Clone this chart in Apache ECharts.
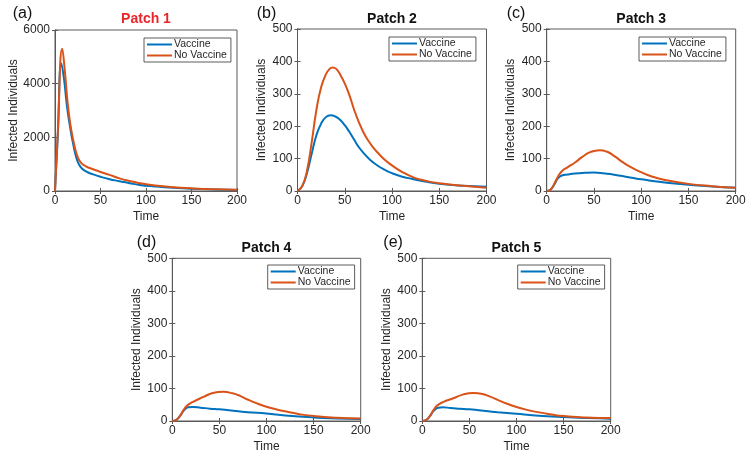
<!DOCTYPE html>
<html>
<head>
<meta charset="utf-8">
<script src="https://cdn.jsdelivr.net/npm/echarts@6/dist/echarts.min.js"></script>
<style>html,body{margin:0;padding:0;background:#fff}#c{width:751px;height:458px}</style>
</head>
<body>
<div id="c"></div>
<script>
// ---------- data ----------
const xTicks = [0, 50, 100, 150, 200];
const yTicksA = [0, 2000, 4000, 6000];
const yTicksOther = [0, 100, 200, 300, 400, 500];
const seriesNames = ['Vaccine', 'No Vaccine'];
const panelTitles = ['Patch 1', 'Patch 2', 'Patch 3', 'Patch 4', 'Patch 5'];
const panelLabels = ['(a)', '(b)', '(c)', '(d)', '(e)'];

// Patch 1
const tVacA   = [0, 3, 7, 10, 13, 16, 20, 24, 28, 34, 42, 50, 60, 71, 82, 93, 110, 130, 150, 175, 200];
const vacA    = [0, 2000, 4750, 4150, 3200, 2500, 1750, 1180, 900, 730, 620, 530, 440, 366, 290, 225, 170, 120, 85, 58, 40];
const tNoVacA = [0, 3, 8, 11, 14, 17, 20, 24, 28, 34, 42, 50, 60, 71, 82, 93, 110, 130, 150, 175, 200];
const noVacA  = [0, 2150, 5300, 4400, 3250, 2450, 1900, 1350, 1080, 920, 810, 710, 600, 470, 370, 290, 205, 140, 100, 65, 45];

// Patch 2
const tVacB   = [0, 5, 10, 15, 20, 25, 30, 35, 40, 45, 50, 55, 60, 65, 70, 77, 85, 92, 100, 110, 122, 135, 150, 175, 200];
const vacB    = [0, 15, 55, 115, 172, 208, 228, 234, 230, 220, 203, 182, 158, 135, 117, 96, 78, 66, 55, 45, 37, 29, 22, 16, 13];
const tNoVacB = [0, 5, 10, 15, 20, 25, 30, 34, 37, 41, 46, 50, 55, 60, 65, 70, 75, 80, 85, 92, 100, 110, 122, 135, 150, 175, 200];
const noVacB  = [0, 15, 62, 150, 250, 320, 360, 377, 381, 377, 355, 332, 295, 250, 212, 180, 155, 135, 118, 97, 79, 60, 43, 32, 24, 16, 10];

// Patch 3
const tVacC   = [0, 4, 8, 12, 16, 22, 30, 40, 50, 60, 70, 80, 90, 100, 112, 125, 150, 175, 200];
const vacC    = [0, 4, 20, 40, 48, 51, 54, 56, 57, 55, 51, 46, 41, 36, 31, 26, 19, 14, 10];
const tNoVacC = [0, 4, 8, 12, 16, 22, 30, 38, 46, 56, 64, 72, 80, 90, 100, 112, 125, 150, 175, 200];
const noVacC  = [0, 4, 22, 45, 61, 73, 88, 106, 120, 126, 121, 107, 90, 72, 58, 44, 34, 22, 15, 10];

// Patch 4
const tVacD   = [0, 4, 8, 12, 17, 22, 30, 40, 50, 60, 70, 80, 100, 120, 150, 175, 200];
const vacD    = [0, 3, 15, 31, 42, 43, 41, 38, 36, 33, 30, 27, 23, 17, 11, 8, 6];
const tNoVacD = [0, 4, 8, 12, 16, 22, 33, 43, 54, 64, 72, 80, 90, 100, 110, 121, 135, 150, 174, 200];
const noVacD  = [0, 3, 15, 34, 48, 59, 74, 86, 90, 85, 77, 66, 54, 44, 36, 29, 21, 15, 10, 8];

// Patch 5
const tVacE   = [0, 4, 8, 12, 17, 22, 30, 40, 50, 60, 70, 80, 100, 120, 150, 175, 200];
const vacE    = [0, 3, 15, 31, 41, 42, 40, 38, 36, 33, 30, 27, 22, 17, 12, 9, 7];
const tNoVacE = [0, 4, 8, 12, 16, 22, 33, 43, 54, 64, 72, 80, 90, 100, 110, 121, 135, 150, 174, 200];
const noVacE  = [0, 3, 15, 34, 48, 58, 70, 81, 86, 83, 75, 65, 53, 43, 35, 28, 21, 15, 11, 9];

// ---------- layout ----------
const FONT = '"Liberation Sans", Arial, Helvetica, sans-serif';
const AX = '#5a5a5a';
const TXT = '#262626';
const BLUE = '#0072BD';
const RED = '#D95319';

const panelData = [
  {vac: [tVacA, vacA], nov: [tNoVacA, noVacA], yTicks: yTicksA},
  {vac: [tVacB, vacB], nov: [tNoVacB, noVacB], yTicks: yTicksOther},
  {vac: [tVacC, vacC], nov: [tNoVacC, noVacC], yTicks: yTicksOther},
  {vac: [tVacD, vacD], nov: [tNoVacD, noVacD], yTicks: yTicksOther},
  {vac: [tVacE, vacE], nov: [tNoVacE, noVacE], yTicks: yTicksOther}
];
const layout = [
  {grid: {left: 55, top: 30, width: 182, height: 161}, nameGap: 34, legend: {left: 144, top: 38}, titleX: 146, titleY: 19.5, labX: 12.7, labY: 14, titleColor: '#E8262B'},
  {grid: {left: 297.5, top: 29, width: 189, height: 162}, nameGap: 30, legend: {left: 389, top: 37}, titleX: 392, titleY: 18.7, labX: 256.7, labY: 14, titleColor: '#111'},
  {grid: {left: 546.7, top: 29, width: 189, height: 162}, nameGap: 30, legend: {left: 639, top: 37}, titleX: 641.2, titleY: 18.7, labX: 506.7, labY: 14, titleColor: '#111'},
  {grid: {left: 172.3, top: 258.3, width: 188.4, height: 162.7}, nameGap: 30, legend: {left: 267.7, top: 265}, titleX: 266.5, titleY: 247.8, labX: 136.7, labY: 243, titleColor: '#111'},
  {grid: {left: 422.3, top: 258.3, width: 188.4, height: 162.7}, nameGap: 30, legend: {left: 517.7, top: 265}, titleX: 516.5, titleY: 247.8, labX: 383.3, labY: 243, titleColor: '#111'}
];

const zip = (t, v) => t.map((x, i) => [x, v[i]]);
const plain = v => String(v);

const grids = [], xAxes = [], yAxes = [], series = [], legends = [], graphics = [];

panelData.forEach((p, i) => {
  const L = layout[i];
  grids.push(Object.assign({show: true, borderColor: AX, borderWidth: 1, backgroundColor: '#fff', containLabel: false}, L.grid));
  const xMin = xTicks[0], xMax = xTicks[xTicks.length - 1], xInt = xTicks[1] - xTicks[0];
  const yMin = p.yTicks[0], yMax = p.yTicks[p.yTicks.length - 1], yInt = p.yTicks[1] - p.yTicks[0];
  const tick = {show: true, inside: true, length: 3, lineStyle: {color: AX, width: 1}};
  xAxes.push({
    type: 'value', gridIndex: i, min: xMin, max: xMax, interval: xInt, position: 'bottom',
    axisLine: {show: true, lineStyle: {color: AX, width: 1}},
    axisTick: tick, splitLine: {show: false},
    axisLabel: {color: TXT, fontSize: 12, fontFamily: FONT, margin: 4, formatter: plain},
    name: 'Time', nameLocation: 'middle', nameGap: 20,
    nameTextStyle: {color: TXT, fontSize: 12, fontFamily: FONT}
  });
  xAxes.push({
    type: 'value', gridIndex: i, min: xMin, max: xMax, interval: xInt, position: 'top',
    axisLine: {show: true, lineStyle: {color: AX, width: 1}},
    axisTick: tick, splitLine: {show: false}, axisLabel: {show: false}
  });
  yAxes.push({
    type: 'value', gridIndex: i, min: yMin, max: yMax, interval: yInt, position: 'left',
    axisLine: {show: true, lineStyle: {color: AX, width: 1}},
    axisTick: tick, splitLine: {show: false},
    axisLabel: {color: TXT, fontSize: 12, fontFamily: FONT, margin: 5, formatter: plain},
    name: 'Infected Individuals', nameLocation: 'middle', nameGap: L.nameGap, nameRotate: 90,
    nameTextStyle: {color: TXT, fontSize: 12, fontFamily: FONT}
  });
  yAxes.push({
    type: 'value', gridIndex: i, min: yMin, max: yMax, interval: yInt, position: 'right',
    axisLine: {show: true, lineStyle: {color: AX, width: 1}},
    axisTick: tick, splitLine: {show: false}, axisLabel: {show: false}
  });
  const common = {type: 'line', xAxisIndex: i * 2, yAxisIndex: i * 2, symbol: 'none', showSymbol: false,
    smooth: 0.5, silent: true, emphasis: {disabled: true}};
  series.push(Object.assign({name: seriesNames[0], data: zip(p.vac[0], p.vac[1]), lineStyle: {color: BLUE, width: 2}, itemStyle: {color: BLUE}, z: 3}, common));
  series.push(Object.assign({name: seriesNames[1], data: zip(p.nov[0], p.nov[1]), lineStyle: {color: RED, width: 2}, itemStyle: {color: RED}, z: 4}, common));
  legends.push({
    data: seriesNames, left: L.legend.left, top: L.legend.top, orient: 'vertical',
    icon: 'rect', itemWidth: 25, itemHeight: 2, itemGap: 0,
    backgroundColor: '#fff', borderColor: '#333', borderWidth: 0.8, padding: [1, 4, 1, 3],
    selectedMode: false,
    textStyle: {color: TXT, fontSize: 10.5, fontFamily: FONT, lineHeight: 10.5, padding: [0, 0, 0, -3]}
  });
  graphics.push({
    type: 'text', x: L.titleX, y: L.titleY, silent: true,
    style: {text: panelTitles[i], fill: L.titleColor, font: 'bold 14px ' + FONT, textAlign: 'center', textVerticalAlign: 'middle'}
  });
  graphics.push({
    type: 'text', x: L.labX, y: L.labY, silent: true,
    style: {text: panelLabels[i], fill: '#111', font: '16px ' + FONT, textAlign: 'left', textVerticalAlign: 'middle'}
  });
});

const chart = echarts.init(document.getElementById('c'), null, {renderer: 'canvas'});
chart.setOption({
  animation: false,
  backgroundColor: '#fff',
  grid: grids, xAxis: xAxes, yAxis: yAxes, series: series, legend: legends, graphic: graphics
});
</script>
</body>
</html>
